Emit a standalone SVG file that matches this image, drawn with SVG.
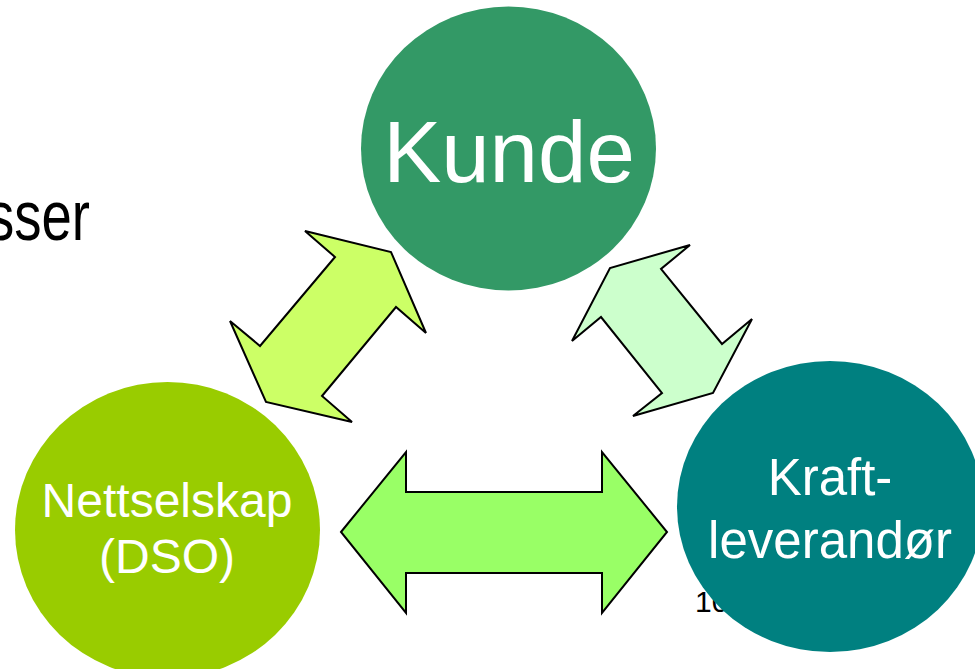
<svg xmlns="http://www.w3.org/2000/svg" width="975" height="669" viewBox="0 0 975 669">
<style>
text{font-family:"Liberation Sans",Arial,sans-serif}
.lbl{fill:#ffffff;text-anchor:middle}
.arr{stroke:#000000;stroke-width:2;stroke-linejoin:miter}
</style>
<rect width="975" height="669" fill="#ffffff"/>
<text x="-13" y="240" font-size="70" textLength="103" lengthAdjust="spacingAndGlyphs" fill="#000000">sser</text>
<text x="695" y="612" font-size="30" fill="#000000">10</text>
<g id="kunde">
<ellipse cx="508.5" cy="148.5" rx="147.5" ry="142" fill="#339966"/>
<text class="lbl" x="509" y="182" font-size="87">Kunde</text>
</g>
<g id="nettselskap">
<ellipse cx="167.5" cy="530" rx="152.5" ry="148" fill="#99CC00"/>
<text class="lbl" x="167" y="517" font-size="48">Nettselskap</text>
<text class="lbl" x="167" y="573" font-size="48">(DSO)</text>
</g>
<g id="kraftleverandor">
<ellipse cx="830" cy="506.5" rx="153" ry="145.5" fill="#008080"/>
<text class="lbl" x="830" y="495" font-size="51">Kraft-</text>
<text class="lbl" x="830" y="558" font-size="51">leverandør</text>
</g>
<g id="connectors">
<polygon class="arr" fill="#CCFF66" points="305,231 391,252 426,333 396,307 322,396 352,422 266,402 230,321 260,346 335,257"/>
<polygon class="arr" fill="#CCFFCC" points="690,245 661,269 722,344 752,319 713,393 633,416 662,393 601,317 572,341 610,268"/>
<polygon class="arr" fill="#99FF66" points="341,532 406,452 406,492 602,492 602,452 667,532 602,613 602,573 406,573 406,613"/>
</g>
</svg>
